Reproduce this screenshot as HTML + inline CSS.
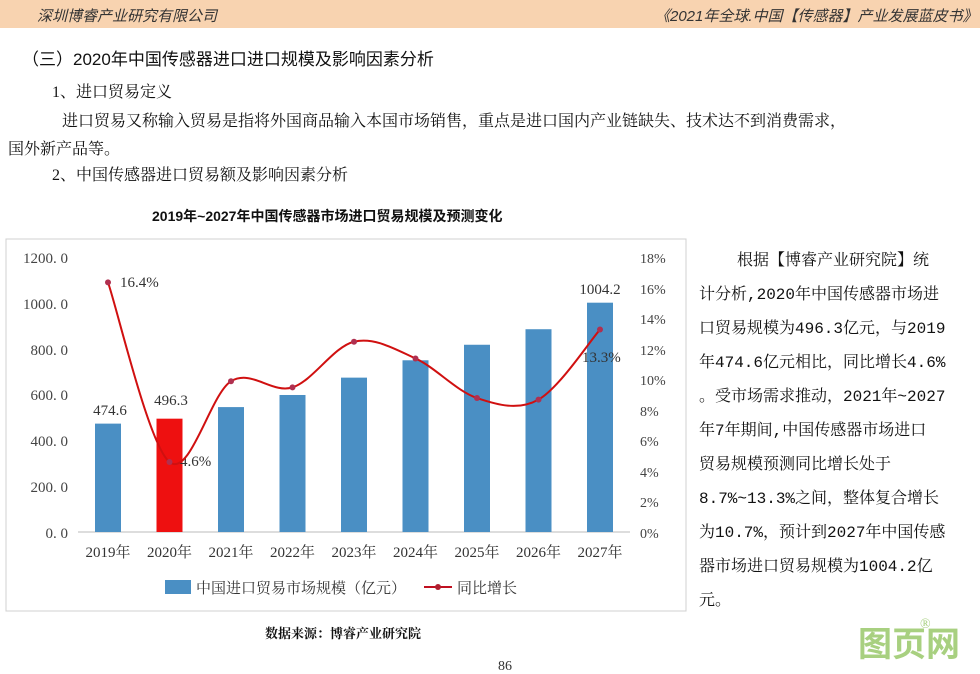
<!DOCTYPE html>
<html><head><meta charset="utf-8"><style>
body{margin:0;width:980px;height:674px;background:#fff;position:relative;overflow:hidden;font-family:"Liberation Serif","Noto Serif CJK SC",serif;color:#111}
.hdr{position:absolute;left:0;top:0;width:980px;height:28px;background:#f8d3b0}
.hdr span{position:absolute;top:5px;font-size:15px;font-style:italic;color:#333;font-family:"Liberation Sans","Noto Sans CJK SC",sans-serif}
.t{position:absolute;white-space:nowrap;font-size:16px}
.r{position:absolute;left:699px;white-space:nowrap;font-size:16px;font-family:"Liberation Mono","Noto Serif CJK SC",serif;line-height:20px}
</style></head><body>
<div class="hdr"><span style="left:37px">深圳博睿产业研究有限公司</span><span style="left:655px">《2021年全球.中国【传感器】产业发展蓝皮书》</span></div>
<div class="t" style="left:22px;top:45px;font-size:17px;font-family:'Liberation Sans','Noto Sans CJK SC',sans-serif">（三）2020年中国传感器进口进口规模及影响因素分析</div>
<div class="t" style="left:52px;top:79px">1、进口贸易定义</div>
<div class="t" style="left:62px;top:108px">进口贸易又称输入贸易是指将外国商品输入本国市场销售，重点是进口国内产业链缺失、技术达不到消费需求，</div>
<div class="t" style="left:8px;top:136px">国外新产品等。</div>
<div class="t" style="left:52px;top:162px">2、中国传感器进口贸易额及影响因素分析</div>
<div class="t" style="left:152px;top:206px;font-size:14px;font-weight:bold;font-family:'Liberation Sans','Noto Sans CJK SC',sans-serif">2019年~2027年中国传感器市场进口贸易规模及预测变化</div>
<svg style="position:absolute;left:0;top:0" width="980" height="674" font-family="Liberation Serif,Noto Serif CJK SC,serif" font-size="15">
<rect x="6" y="239" width="680" height="372" fill="none" stroke="#d0d0d0"/>
<line x1="78" y1="532" x2="630" y2="532" stroke="#bbb"/>
<g id="bars"></g>
<g fill="#444" text-anchor="end">
<text x="68" y="263">1200. 0</text><text x="68" y="309">1000. 0</text><text x="68" y="355">800. 0</text><text x="68" y="400">600. 0</text><text x="68" y="446">400. 0</text><text x="68" y="492">200. 0</text><text x="68" y="538">0. 0</text></g>
<g fill="#444" font-size="14">
<text x="640" y="263">18%</text><text x="640" y="294">16%</text><text x="640" y="324">14%</text><text x="640" y="355">12%</text><text x="640" y="385">10%</text><text x="640" y="416">8%</text><text x="640" y="446">6%</text><text x="640" y="477">4%</text><text x="640" y="507">2%</text><text x="640" y="538">0%</text></g>
<g fill="#333" text-anchor="middle">
<text x="108" y="557">2019年</text><text x="169.5" y="557">2020年</text><text x="231" y="557">2021年</text><text x="292.5" y="557">2022年</text><text x="354" y="557">2023年</text><text x="415.5" y="557">2024年</text><text x="477" y="557">2025年</text><text x="538.5" y="557">2026年</text><text x="600" y="557">2027年</text>
<text x="110" y="415">474.6</text><text x="171" y="405">496.3</text><text x="600" y="294">1004.2</text></g>
<g fill="#333"><text x="120" y="287">16.4%</text><text x="180" y="466">4.6%</text><text x="582" y="362">13.3%</text></g>
<path id="ln" fill="none" stroke="#d01010" stroke-width="2"/>
<g id="dots"></g>
<rect x="165" y="580" width="26" height="14" fill="#4a8fc4"/>
<text x="196" y="593" fill="#333">中国进口贸易市场规模（亿元）</text>
<line x1="424" y1="587" x2="452" y2="587" stroke="#c01020" stroke-width="2"/><circle cx="438" cy="587" r="3" fill="#b02030"/>
<text x="457" y="593" fill="#333">同比增长</text>
<text x="265" y="638" font-size="13" font-weight="bold" fill="#111">数据来源：博睿产业研究院</text>
<text x="498" y="670" font-size="14" fill="#333">86</text>
<text x="858" y="656" font-size="34" font-weight="bold" fill="#a8d080" font-family="Noto Sans CJK SC,sans-serif">图页网</text>
<text x="920" y="628" font-size="14" fill="#a8d080">®</text>
</svg>
<div class="r" style="top:251px;left:737px">根据【博睿产业研究院】统</div>
<div class="r" style="top:285px">计分析,2020年中国传感器市场进</div>
<div class="r" style="top:319px">口贸易规模为496.3亿元，与2019</div>
<div class="r" style="top:353px">年474.6亿元相比，同比增长4.6%</div>
<div class="r" style="top:387px">。受市场需求推动，2021年~2027</div>
<div class="r" style="top:421px">年7年期间,中国传感器市场进口</div>
<div class="r" style="top:455px">贸易规模预测同比增长处于</div>
<div class="r" style="top:489px">8.7%~13.3%之间，整体复合增长</div>
<div class="r" style="top:523px">为10.7%，预计到2027年中国传感</div>
<div class="r" style="top:557px">器市场进口贸易规模为1004.2亿</div>
<div class="r" style="top:591px">元。</div>
<script>
var v=[474.6,496.3,547,600,676,752,820,888,1004.2],p=[16.4,4.6,9.9,9.5,12.5,11.4,8.8,8.7,13.3];
var b='',d='',P=[];
for(var i=0;i<9;i++){var x=108+i*61.5,h=v[i]/200*45.67;
b+='<rect x="'+(x-13)+'" y="'+(532-h)+'" width="26" height="'+h+'" fill="'+(i==1?'#ee1010':'#4a8fc4')+'"/>';
var y=532-p[i]/18*274;P.push([x,y]);d+='<circle cx="'+x+'" cy="'+y+'" r="3" fill="#b03050"/>';}
document.getElementById('bars').innerHTML=b;document.getElementById('dots').innerHTML=d;
var s='M'+P[0][0]+','+P[0][1];
for(var i=0;i<8;i++){var a=P[i-1]||P[i],c=P[i],e=P[i+1],f=P[i+2]||e;
s+=' C'+(c[0]+(e[0]-a[0])/6)+','+(c[1]+(e[1]-a[1])/6)+' '+(e[0]-(f[0]-c[0])/6)+','+(e[1]-(f[1]-c[1])/6)+' '+e[0]+','+e[1];}
document.getElementById('ln').setAttribute('d',s);
</script>
</body></html>
